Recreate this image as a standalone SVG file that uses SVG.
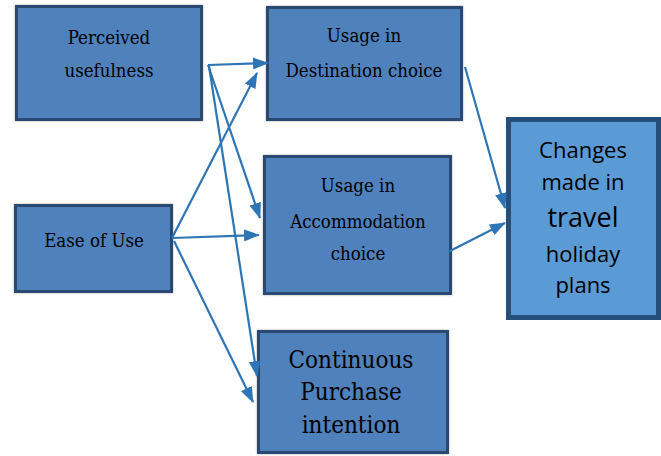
<svg xmlns="http://www.w3.org/2000/svg" width="661" height="456" viewBox="0 0 661 456">
<style>
.box{fill:#4f81bd;stroke:#2b4a70;stroke-width:3}
.big{fill:#5b9bd5;stroke:#244f7c;stroke-width:5}
.t{font-family:'DejaVu Serif Condensed','DejaVu Serif',serif;font-stretch:condensed;font-size:18.5px;fill:#000;text-anchor:middle}
.t2{font-family:'DejaVu Serif Condensed','DejaVu Serif',serif;font-stretch:condensed;font-size:24px;fill:#000;text-anchor:middle}
.s{font-family:'Open Sans','Noto Sans',sans-serif;font-size:22px;fill:#000;text-anchor:middle}
.c{stroke:#2e75b6;stroke-width:2.2;fill:none;marker-end:url(#ah)}
</style>
<defs>
<filter id="sh" x="-5%" y="-5%" width="110%" height="110%"><feGaussianBlur in="SourceAlpha" stdDeviation="1.2"/><feComponentTransfer><feFuncA type="linear" slope="0.35"/></feComponentTransfer><feMerge><feMergeNode/><feMergeNode in="SourceGraphic"/></feMerge></filter>
<marker id="ah" viewBox="0 0 16 12" refX="15" refY="6" markerWidth="16" markerHeight="12" markerUnits="userSpaceOnUse" orient="auto"><path d="M0,0 L16,6 L0,12 z" fill="#2e75b6"/></marker>
</defs>
<g id="perceived-usefulness"><rect class="box" filter="url(#sh)" x="16.5" y="6.5" width="185" height="113"/><text class="t" x="109" y="44">Perceived</text><text class="t" x="109" y="77">usefulness</text></g>
<g id="destination"><rect class="box" filter="url(#sh)" x="267.5" y="7.5" width="194" height="112"/><text class="t" x="364" y="42">Usage in</text><text class="t" x="364" y="77">Destination choice</text></g>
<g id="ease-of-use"><rect class="box" filter="url(#sh)" x="15.5" y="205.5" width="156" height="86"/><text class="t" x="94" y="247">Ease of Use</text></g>
<g id="accommodation"><rect class="box" filter="url(#sh)" x="264.5" y="156.5" width="186" height="137"/><text class="t" x="358" y="192">Usage in</text><text class="t" x="358" y="228">Accommodation</text><text class="t" x="358" y="260">choice</text></g>
<g id="continuous"><rect class="box" filter="url(#sh)" x="258.5" y="331.5" width="189" height="121"/><text class="t2" x="351" y="368">Continuous</text><text class="t2" x="351" y="400">Purchase</text><text class="t2" x="351" y="433">intention</text></g>
<g id="changes"><rect class="big" x="508.5" y="119.5" width="150" height="198"/><text class="s" x="583" y="158">Changes</text><text class="s" x="583" y="190">made in</text><text class="s" x="583" y="227" style="font-size:27px">travel</text><text class="s" x="583" y="262">holiday</text><text class="s" x="583" y="293">plans</text></g>
<g id="connectors">
<line class="c" x1="208" y1="65" x2="268" y2="63"/>
<line class="c" x1="208" y1="65" x2="260" y2="218"/>
<line class="c" x1="209" y1="66" x2="257" y2="376"/>
<line class="c" x1="172" y1="238" x2="257" y2="73"/>
<line class="c" x1="172" y1="238" x2="259" y2="235"/>
<line class="c" x1="174" y1="241" x2="253" y2="402"/>
<line class="c" x1="465" y1="67" x2="505" y2="208"/>
<line class="c" x1="448" y1="252" x2="505" y2="223"/>
</g>
</svg>
